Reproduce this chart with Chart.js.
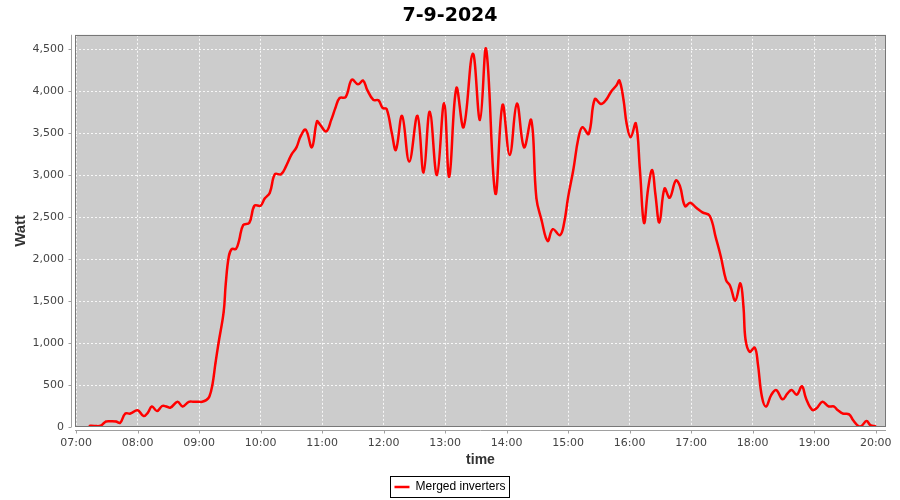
<!DOCTYPE html>
<html>
<head>
<meta charset="utf-8">
<title>7-9-2024</title>
<script src="https://cdn.jsdelivr.net/npm/chart.js@4.4.1/dist/chart.umd.min.js"></script>
<style>
  html, body { margin: 0; padding: 0; background: #fff; }
</style>
</head>
<body>
<canvas id="canvas1" width="900" height="500"></canvas>
<script>
// measurement times (HH:MM) and merged inverter output in Watt
var times = [
  "07:13","07:18","07:24","07:29","07:34","07:39","07:43","07:48","07:53","08:00",
  "08:06","08:10","08:14","08:19","08:24","08:28","08:32","08:39","08:44","08:50",
  "08:55","09:00","09:03","09:07","09:10","09:13","09:16","09:19","09:24","09:26",
  "09:29","09:32","09:36","09:39","09:43","09:49","09:54","10:00","10:04","10:09",
  "10:14","10:20","10:25","10:30","10:35","10:39","10:44","10:50","10:55","10:58",
  "11:04","11:09","11:13","11:17","11:23","11:29","11:35","11:40","11:44","11:50",
  "11:55","11:59","12:03","12:08","12:12","12:18","12:25","12:33","12:39","12:45",
  "12:52","12:59","13:04","13:11","13:18","13:27","13:34","13:40","13:49","13:56",
  "14:03","14:10","14:17","14:24","14:29","14:34","14:40","14:45","14:52","14:56",
  "15:00","15:05","15:10","15:14","15:20","15:26","15:32","15:37","15:42","15:47",
  "15:50","15:54","15:57","16:01","16:06","16:10","16:14","16:18","16:22","16:25",
  "16:29","16:34","16:39","16:45","16:49","16:54","16:59","17:05","17:11","17:18",
  "17:24","17:29","17:34","17:38","17:43","17:48","17:51","17:53","17:57","18:02",
  "18:05","18:09","18:13","18:18","18:23","18:29","18:34","18:38","18:43","18:48",
  "18:52","18:58","19:02","19:08","19:14","19:19","19:23","19:28","19:34","19:38",
  "19:43","19:46","19:51","19:55","20:00"
];
var watts = [
  15, 12, 15, 65, 68, 65, 50, 160, 160, 200,
  130, 170, 245, 190, 250, 245, 230, 300, 245, 300,
  300, 300, 300, 320, 360, 500, 760, 1000, 1370, 1700,
  2030, 2120, 2120, 2220, 2405, 2430, 2635, 2635, 2720, 2790,
  3010, 3010, 3110, 3240, 3330, 3460, 3540, 3330, 3640, 3600,
  3520, 3660, 3800, 3915, 3930, 4135, 4080, 4125, 4015, 3895,
  3890, 3800, 3785, 3500, 3300, 3705, 3160, 3705, 3030, 3755,
  3000, 3855, 2980, 4035, 3570, 4445, 3655, 4500, 2780, 3835,
  3240, 3850, 3330, 3655, 2725, 2465, 2215, 2355, 2285, 2425,
  2740, 3060, 3440, 3570, 3490, 3905, 3845, 3895, 3995, 4065,
  4125, 3895, 3615, 3450, 3615, 3060, 2430, 2840, 3060, 2780,
  2435, 2840, 2730, 2935, 2870, 2630, 2670, 2610, 2555, 2515,
  2255, 2025, 1750, 1680, 1505, 1710, 1430, 1040, 895, 945,
  755, 360, 245, 380, 440, 330, 400, 440, 385, 485,
  340, 205, 220, 300, 245, 245, 200, 160, 150, 80,
  12, 12, 70, 20, 10
];
var xTicks = ["07:00","08:00","09:00","10:00","11:00","12:00","13:00",
              "14:00","15:00","16:00","17:00","18:00","19:00","20:00"];
var yTicks = [0, 500, 1000, 1500, 2000, 2500, 3000, 3500, 4000, 4500];

function toMinutes(t) {
  var p = t.split(":");
  return parseInt(p[0], 10) * 60 + parseInt(p[1], 10);
}
function toLabel(m) {
  var h = Math.floor(m / 60), mm = m % 60;
  return (h < 10 ? "0" : "") + h + ":" + (mm < 10 ? "0" : "") + mm;
}

var points = [];
for (var i = 0; i < times.length; i++) {
  points.push({ x: toMinutes(times[i]), y: watts[i] });
}

// grey plot background, outline, offset axis lines and legend frame
var plotFrame = {
  id: "plotFrame",
  beforeDraw: function(chart) {
    var a = chart.chartArea, ctx = chart.ctx;
    ctx.save();
    ctx.fillStyle = "#cccccc";
    ctx.fillRect(a.left, a.top, a.right - a.left, a.bottom - a.top);
    ctx.restore();
  },
  afterDraw: function(chart) {
    var a = chart.chartArea, ctx = chart.ctx;
    var xs = chart.scales.x, ys = chart.scales.y;
    ctx.save();
    ctx.lineWidth = 1;
    ctx.strokeStyle = "#777777";
    ctx.strokeRect(Math.round(a.left) + 0.5, Math.round(a.top) + 0.5,
                   Math.round(a.right - a.left) - 1, Math.round(a.bottom - a.top) - 1);

    var ax = Math.round(a.left) - 3.5;
    var ay = Math.round(a.bottom) + 3.5;
    ctx.strokeStyle = "#a0a0a0";
    ctx.beginPath();
    ctx.moveTo(ax, a.top);
    ctx.lineTo(ax, a.bottom);
    ctx.moveTo(a.left, ay);
    ctx.lineTo(a.right, ay);
    yTicks.forEach(function(v) {
      var py = Math.round(ys.getPixelForValue(v)) + 0.5;
      ctx.moveTo(ax - 3, py);
      ctx.lineTo(ax, py);
    });
    xTicks.forEach(function(t) {
      var px = Math.round(xs.getPixelForValue(toMinutes(t))) + 0.5;
      ctx.moveTo(px, ay);
      ctx.lineTo(px, ay + 3);
    });
    ctx.stroke();

    // legend frame
    var hb = chart.legend.legendHitBoxes[0];
    if (hb) {
      ctx.strokeStyle = "#000000";
      var cy = hb.top + hb.height / 2;
      ctx.strokeRect(Math.round(hb.left) - 3.5, Math.round(cy) - 10.5,
                     Math.round(hb.width) + 8, 21);
    }
    ctx.restore();
  }
};

var ctx = document.getElementById("canvas1").getContext("2d");
var chart = new Chart(ctx, {
  type: "line",
  data: {
    datasets: [{
      label: "Merged inverters",
      data: points,
      borderColor: "#ff0000",
      backgroundColor: "#ff0000",
      borderWidth: 2.5,
      pointRadius: 1,
      pointBorderWidth: 0,
      pointStyle: "rect",
      tension: 0.4,
      fill: false
    }]
  },
  options: {
    responsive: false,
    animation: false,
    devicePixelRatio: 1,
    layout: { padding: { left: 0, right: 0, top: 0, bottom: -3 } },
    plugins: {
      title: {
        display: true,
        text: "7-9-2024",
        color: "#000000",
        font: { family: "'DejaVu Sans', sans-serif", size: 19, weight: "bold" },
        padding: { top: 4.5, bottom: 7.5 }
      },
      legend: {
        position: "bottom",
        labels: {
          color: "#000000",
          font: { family: "'Liberation Sans', Arial, sans-serif", size: 12 },
          usePointStyle: true,
          pointStyleWidth: 15,
          padding: 5,
          generateLabels: function(chart) {
            var items = Chart.defaults.plugins.legend.labels.generateLabels(chart);
            items.forEach(function(it) {
              it.pointStyle = "line";
              it.lineWidth = 2.5;
              it.strokeStyle = "#ff0000";
            });
            return items;
          }
        }
      },
      tooltip: { enabled: false }
    },
    scales: {
      x: {
        type: "linear",
        min: 419,
        max: 1210,
        afterFit: function(scale) {
          scale.height = 49;
          scale.paddingLeft = 0;
          scale.paddingRight = 0;
        },
        afterBuildTicks: function(scale) {
          scale.ticks = xTicks.map(function(t) { return { value: toMinutes(t) }; });
        },
        ticks: {
          color: "#444444",
          font: { family: "'DejaVu Sans', sans-serif", size: 11 },
          padding: 10,
          maxRotation: 0,
          callback: function(v) { return toLabel(v); }
        },
        grid: { color: "rgba(255,255,255,0.85)", lineWidth: 1, drawTicks: false },
        border: { display: false, dash: [2, 2] },
        title: {
          display: true,
          text: "time",
          color: "#333333",
          font: { family: "'Liberation Sans', Arial, sans-serif", size: 14, weight: "bold" },
          padding: { top: 2, bottom: 7 }
        }
      },
      y: {
        min: 0,
        max: 4670,
        afterFit: function(scale) { scale.width = 75; },
        afterBuildTicks: function(scale) {
          scale.ticks = yTicks.map(function(v) { return { value: v }; });
        },
        ticks: {
          color: "#444444",
          font: { family: "'DejaVu Sans', sans-serif", size: 11 },
          padding: 11,
          callback: function(v) { return v.toLocaleString("en-US"); }
        },
        grid: { color: "rgba(255,255,255,0.85)", lineWidth: 1, drawTicks: false },
        border: { display: false, dash: [2, 2] },
        title: {
          display: true,
          text: "Watt",
          color: "#333333",
          font: { family: "'Liberation Sans', Arial, sans-serif", size: 15, weight: "bold" },
          padding: { top: 12, bottom: 2 }
        }
      },
      // empty right-hand axis, only reserves the right margin
      yRight: {
        position: "right",
        min: 0,
        max: 4670,
        afterFit: function(scale) { scale.width = 14; },
        ticks: { display: false },
        grid: { display: false, drawTicks: false },
        border: { display: false }
      }
    }
  },
  plugins: [plotFrame]
});
</script>
</body>
</html>
